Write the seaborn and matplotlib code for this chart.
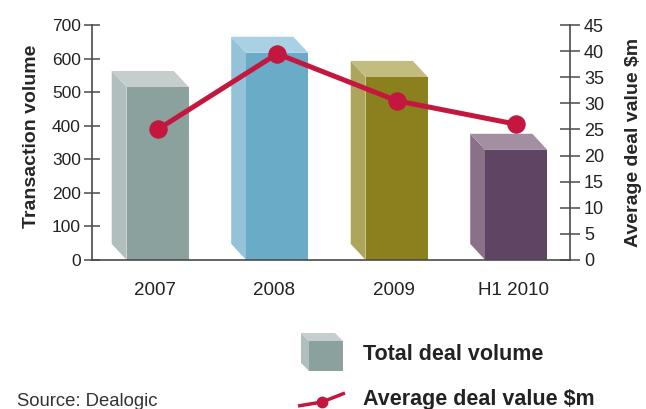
import numpy as np
import matplotlib
matplotlib.use("Agg")
import matplotlib.pyplot as plt
from matplotlib.patches import Polygon
import seaborn as sns

periods = ["2007", "2008", "2009", "H1 2010"]
deal_volume = [515, 617, 545, 328]
avg_deal_value = [25.0, 39.5, 30.5, 26.0]

front_cols = ["#8BA19E", "#6AABC8", "#8B801E", "#5F4563"]
side_cols = ["#B0BEBD", "#94C3D9", "#ADA55B", "#8A7188"]
top_cols = ["#C5CECC", "#A9D1E3", "#C2BC7F", "#A38FA2"]
line_col = "#C3173F"
axis_col = "#4A4A4A"

sns.set_style("white")
plt.rcParams["font.family"] = ["Liberation Sans", "DejaVu Sans"]

fig = plt.figure(figsize=(6.46, 4.09), dpi=100)
ax = fig.add_axes([92 / 646, 1 - 260 / 409, 478 / 646, 235 / 409])

sns.barplot(x=periods, y=deal_volume, hue=periods, palette=front_cols,
            width=0.52, legend=False, ax=ax, saturation=1, zorder=2)

# 3D depth (up and to the left)
dx = -0.125
dy = 48
shift = 0.05
for i, p in enumerate(list(ax.patches)):
    p.set_x(p.get_x() + shift)
    p.set_edgecolor("none")
    x0, w, h = p.get_x(), p.get_width(), p.get_height()
    side = Polygon([(x0, 0), (x0, h), (x0 + dx, h + dy), (x0 + dx, dy)],
                   closed=True, facecolor=side_cols[i], edgecolor="none",
                   zorder=1.9, clip_on=False)
    top = Polygon([(x0, h), (x0 + w, h), (x0 + w + dx, h + dy), (x0 + dx, h + dy)],
                  closed=True, facecolor=top_cols[i], edgecolor="none",
                  zorder=1.9, clip_on=False)
    ax.add_patch(side)
    ax.add_patch(top)

ax.set_xlim(-0.5, 3.5)
ax.set_ylim(0, 700)
ax.set_yticks(range(0, 701, 100))
ax.set_xticks(np.arange(4) + 0.025)
ax.set_xticklabels(periods)
ax.set_xticks(np.arange(-0.5, 3.6, 1), minor=True)
ax.tick_params(axis="x", which="major", length=0, pad=16, labelsize=13.5, colors="#222222")
ax.tick_params(axis="x", which="minor", length=14, direction="inout", width=1.1, color=axis_col)
ax.tick_params(axis="y", length=12, direction="inout", width=1.1, color=axis_col,
               labelsize=12.5, labelcolor="#222222", pad=2)
ax.set_ylabel("Transaction volume", fontsize=14, fontweight="bold", labelpad=8.5)
ax.yaxis.label.set_y(0.525)
ax.set_xlabel("")
for s in ["top", "right"]:
    ax.spines[s].set_visible(False)
for s in ["left", "bottom"]:
    ax.spines[s].set_color(axis_col)
    ax.spines[s].set_linewidth(1.2)

ax2 = ax.twinx()
sns.lineplot(x=np.arange(4) + shift, y=avg_deal_value, ax=ax2, color=line_col,
             linewidth=3.6, marker="o", markersize=12.5, markeredgecolor=line_col)
ax2.set_ylim(0, 45)
ax2.set_yticks(range(0, 46, 5))
ax2.tick_params(axis="y", length=14, direction="inout", width=1.1, color=axis_col,
                labelsize=13, labelcolor="#222222", pad=3)
ax2.set_ylabel("Average deal value $m", fontsize=14, fontweight="bold", labelpad=15)
for s in ["top", "left", "bottom"]:
    ax2.spines[s].set_visible(False)
ax2.spines["right"].set_color(axis_col)
ax2.spines["right"].set_linewidth(1.2)

# legend drawn in pixel space
lg = fig.add_axes([0, 0, 1, 1], zorder=-1)
lg.set_xlim(0, 646)
lg.set_ylim(409, 0)
lg.axis("off")
lg.add_patch(Polygon([(309, 341), (343, 341), (343, 371), (309, 371)],
                     facecolor=front_cols[0], edgecolor="none"))
lg.add_patch(Polygon([(301, 333), (309, 341), (309, 371), (301, 363)],
                     facecolor=side_cols[0], edgecolor="none"))
lg.add_patch(Polygon([(301, 333), (335, 333), (343, 341), (309, 341)],
                     facecolor=top_cols[0], edgecolor="none"))
lg.text(363, 355, "Total deal volume", fontsize=15.5, fontweight="bold",
        color="#222222", va="center")
lg.plot([298, 322, 345], [406, 402, 393], color=line_col, linewidth=2.5,
        solid_capstyle="butt")
lg.plot([322], [402], "o", color=line_col, markersize=7.5)
lg.text(363, 400, "Average deal value $m", fontsize=15.5, fontweight="bold",
        color="#222222", va="center")
lg.text(17, 402, "Source: Dealogic", fontsize=13.3, color="#333333", va="center")

fig.savefig("out.png", dpi=100)
